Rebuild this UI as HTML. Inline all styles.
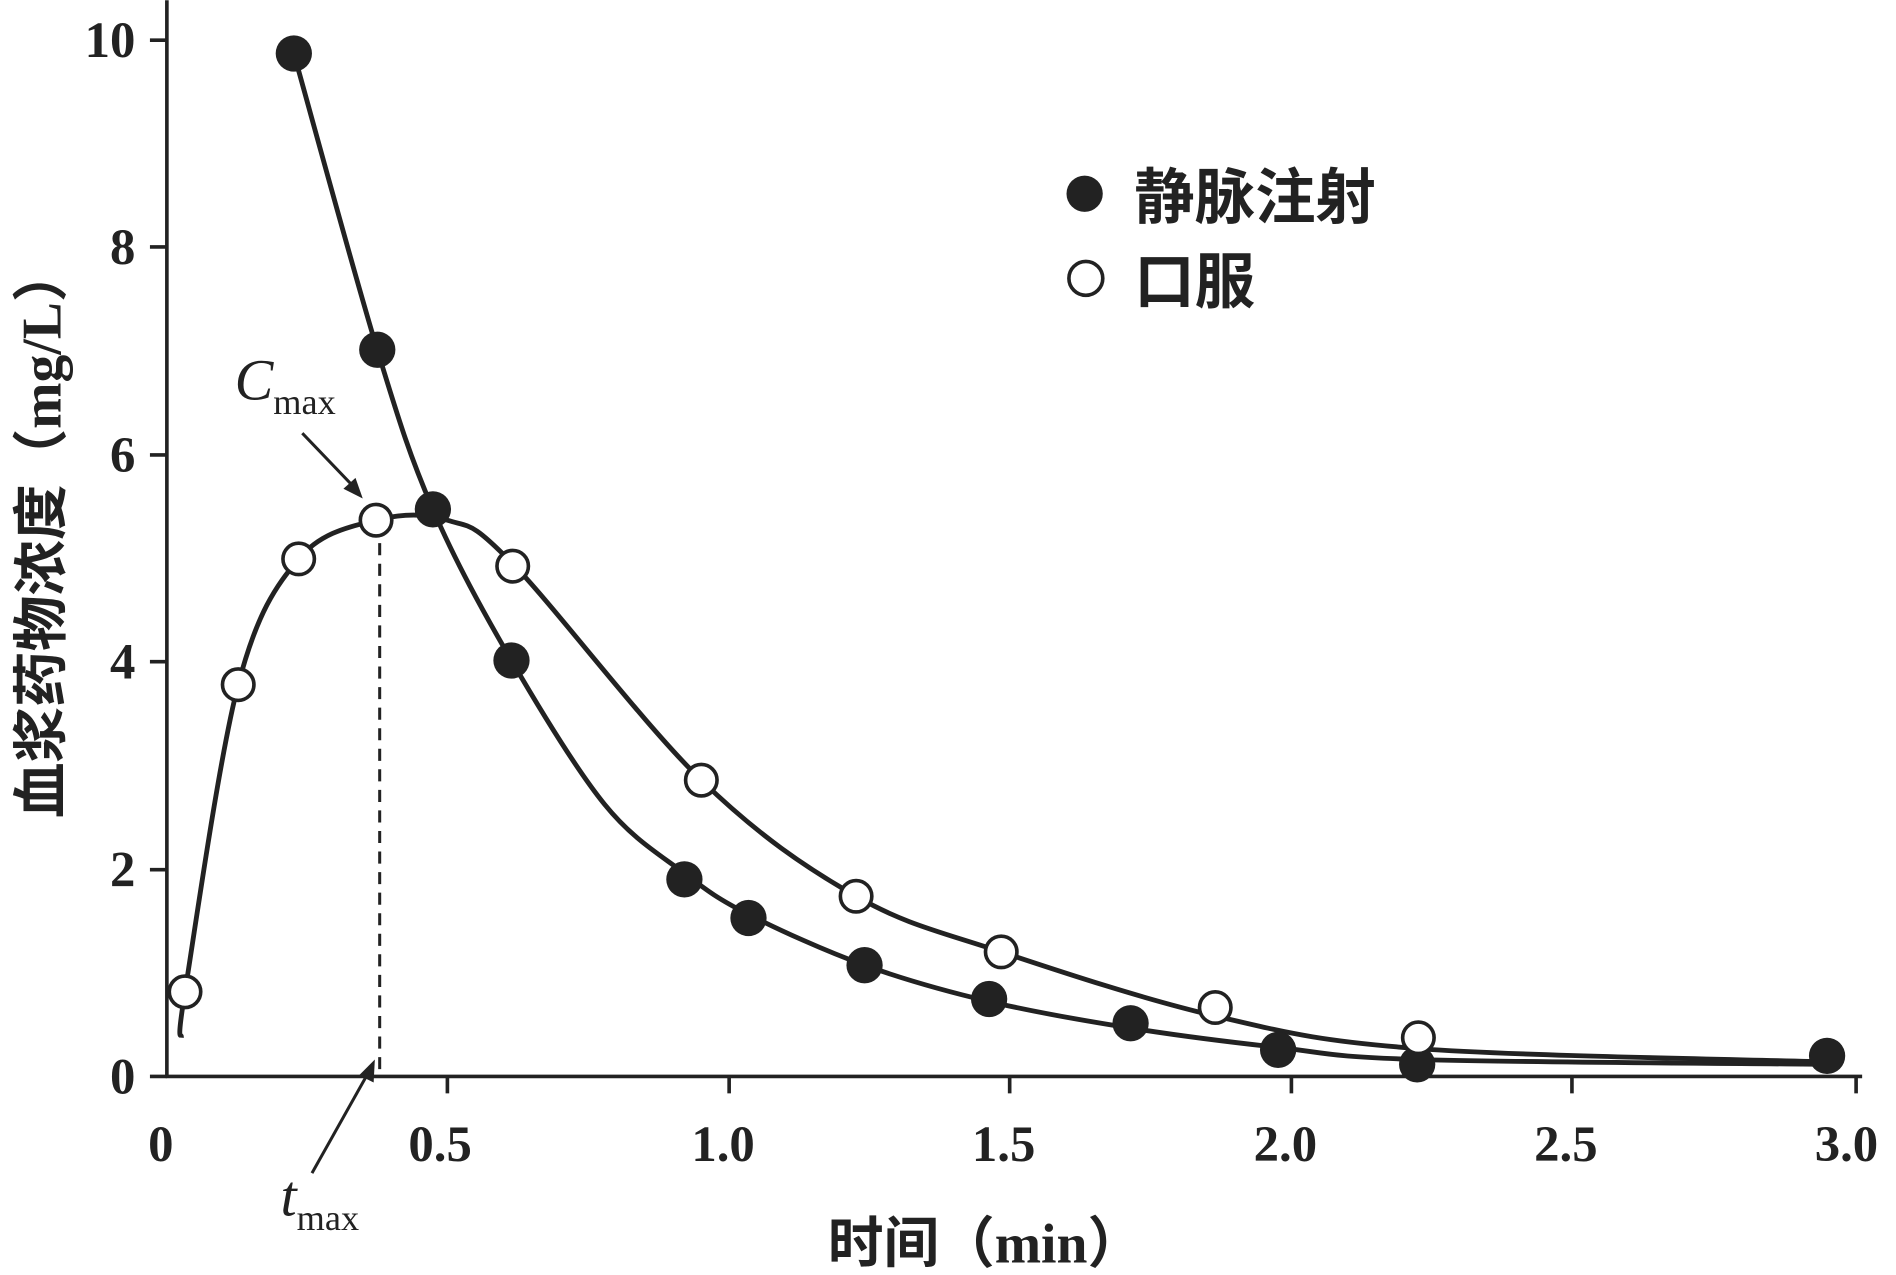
<!DOCTYPE html>
<html><head><meta charset="utf-8"><style>
html,body{margin:0;padding:0;background:#fff;}
svg{display:block;}
text{font-family:"Liberation Serif","Noto Serif CJK SC",serif;fill:#222;}
.cjk{font-family:"Liberation Sans","Noto Sans CJK SC",sans-serif;font-weight:bold;}
</style></head><body>
<svg id="s" width="1896" height="1275" viewBox="0 0 1568 1054" xmlns="http://www.w3.org/2000/svg">
<g stroke="#222" stroke-width="3" fill="none">
<line x1="138" y1="0" x2="138" y2="891"/>
<line x1="137" y1="890" x2="1540" y2="890"/>
<line x1="124" y1="33" x2="138" y2="33"/>
<line x1="124" y1="204" x2="138" y2="204"/>
<line x1="124" y1="376" x2="138" y2="376"/>
<line x1="124" y1="547" x2="138" y2="547"/>
<line x1="124" y1="719" x2="138" y2="719"/>
<line x1="124" y1="890" x2="138" y2="890"/>
<line x1="370" y1="890" x2="370" y2="904"/>
<line x1="603" y1="890" x2="603" y2="904"/>
<line x1="835" y1="890" x2="835" y2="904"/>
<line x1="1068" y1="890" x2="1068" y2="904"/>
<line x1="1300" y1="890" x2="1300" y2="904"/>
<line x1="1535" y1="890" x2="1535" y2="904"/>
<line x1="314" y1="432" x2="314" y2="890" stroke-dasharray="10,7" stroke-width="2.5"/>
<line x1="250" y1="358" x2="296" y2="406" stroke-width="2.5"/>
<line x1="258" y1="970" x2="304" y2="888" stroke-width="2.5"/>
<path id="iv" stroke-width="4"/>
<path id="po" stroke-width="4"/>
</g>
<polygon points="300,412 284,404 294,395" fill="#222"/>
<polygon points="310,876 309,895 297,889" fill="#222"/>
<g id="pts"></g>
<g font-size="42" text-anchor="end" font-weight="bold">
<text x="112" y="47">10</text><text x="112" y="218">8</text><text x="112" y="390">6</text>
<text x="112" y="561">4</text><text x="112" y="733">2</text><text x="112" y="904">0</text>
</g>
<g font-size="42" text-anchor="middle" font-weight="bold">
<text x="133" y="960">0</text><text x="364" y="960">0.5</text><text x="598" y="960">1.0</text>
<text x="830" y="960">1.5</text><text x="1063" y="960">2.0</text><text x="1295" y="960">2.5</text><text x="1527" y="960">3.0</text>
</g>
<text x="194" y="330" font-size="48" font-style="italic">C<tspan font-size="30" font-style="normal" dy="12">max</tspan></text>
<text x="232" y="1005" font-size="48" font-style="italic">t<tspan font-size="30" font-style="normal" dy="12">max</tspan></text>
<circle cx="897" cy="160" r="15" fill="#222"/>
<circle cx="898" cy="230" r="14" fill="#fff" stroke="#222" stroke-width="3"/>
<text class="cjk" x="938" y="180" font-size="50">静脉注射</text>
<text class="cjk" x="938" y="250" font-size="50">口服</text>
<text class="cjk" x="815" y="1044" font-size="46" text-anchor="middle">时间（<tspan font-family="Liberation Serif">min</tspan>）</text>
<text class="cjk" transform="translate(50,440) rotate(-90)" font-size="46" text-anchor="middle">血浆药物浓度（<tspan font-family="Liberation Serif">mg/L</tspan>）</text>
</svg>
<script>
function cr(p){var d="M"+p[0][0]+","+p[0][1];for(var i=0;i<p.length-1;i++){var a=p[Math.max(i-1,0)],b=p[i],c=p[i+1],e=p[Math.min(i+2,p.length-1)];d+=" C"+(b[0]+(c[0]-a[0])/6)+","+(b[1]+(c[1]-a[1])/6)+" "+(c[0]-(e[0]-b[0])/6)+","+(c[1]-(e[1]-b[1])/6)+" "+c[0]+","+c[1];}return d;}
var iv=[[243,44],[312,289],[358,421],[423,546],[500,665],[566,722],[619,756],[715,798],[818,828],[935,850],[1057,866],[1172,876],[1511,880]];
var po=[[150,858],[153,820],[197,566],[247,462],[311,430],[370,430],[424,466],[580,645],[708,741],[828,787],[1005,840],[1173,867],[1511,878]];
document.getElementById("iv").setAttribute("d",cr(iv));
document.getElementById("po").setAttribute("d",cr(po));
var f=[[243,44],[312,289],[358,421],[423,546],[566,727],[619,759],[715,798],[818,826],[935,846],[1057,868],[1172,880],[1511,873]];
var o=[[153,820],[197,566],[247,462],[311,430],[424,468],[580,645],[708,741],[828,787],[1005,833],[1173,858]];
var g=document.getElementById("pts"),h="";
f.forEach(function(q){h+='<circle cx="'+q[0]+'" cy="'+q[1]+'" r="15" fill="#222"/>';});
o.forEach(function(q){h+='<circle cx="'+q[0]+'" cy="'+q[1]+'" r="13" fill="#fff" stroke="#222" stroke-width="3"/>';});
g.innerHTML=h;
</script>
</body></html>
